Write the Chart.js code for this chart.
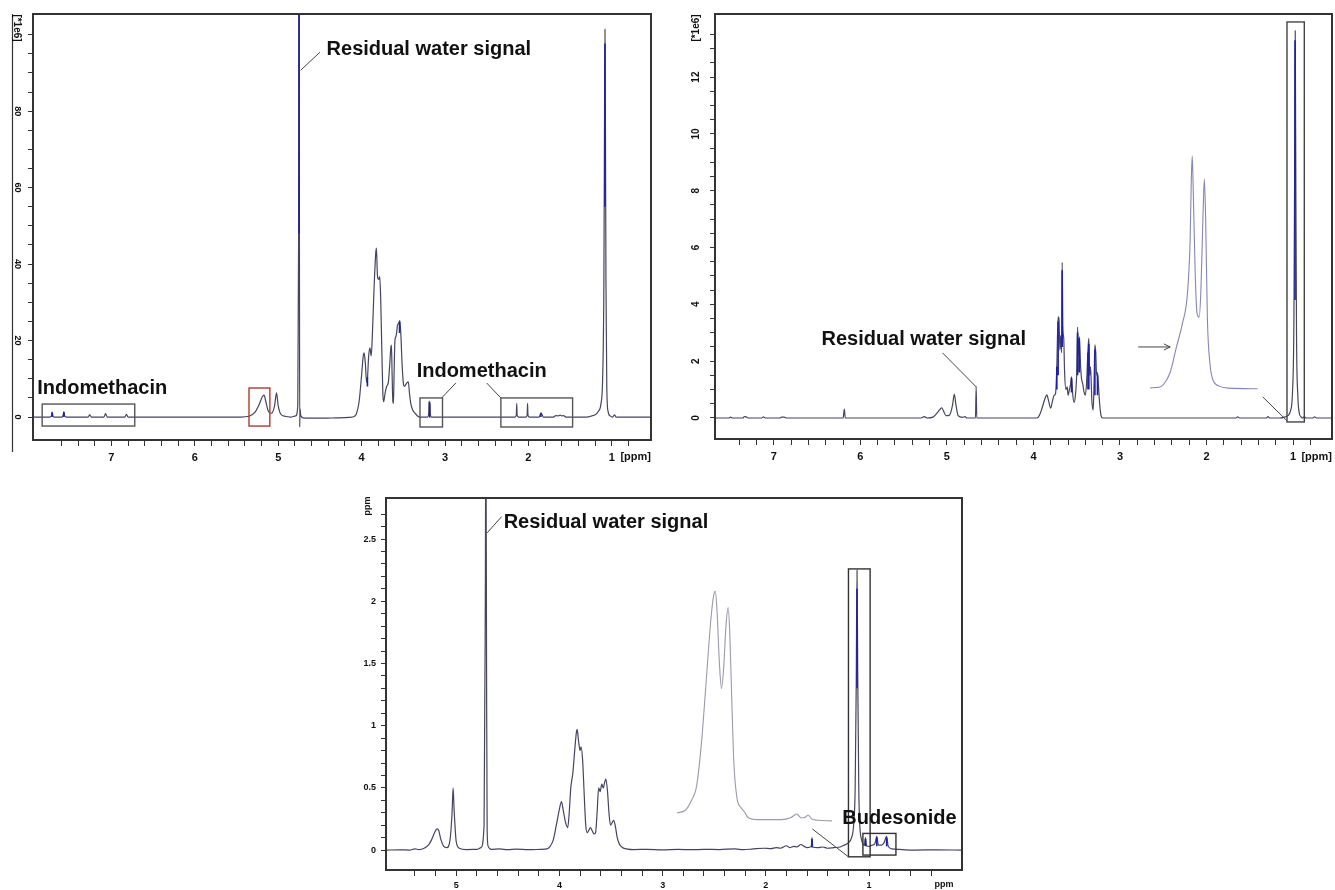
<!DOCTYPE html>
<html>
<head>
<meta charset="utf-8">
<title>1H NMR spectra</title>
<script src="https://cdn.jsdelivr.net/npm/chart.js@4.4.1/dist/chart.umd.min.js"></script>
<style>
  html, body { margin: 0; padding: 0; background: #fff; }
  body { position: relative; width: 1335px; height: 890px; overflow: hidden; }
  canvas { position: absolute; }
</style>
</head>
<body>
<canvas id="indo" width="660" height="470" style="left:0;top:0"></canvas>
<canvas id="ctrl" width="675" height="470" style="left:660px;top:0"></canvas>
<canvas id="bud" width="680" height="420" style="left:330px;top:470px"></canvas>
<script>
// spectra as [ppm, intensity]

// top left, intensity in 1e6
const indoTrace = [
  [7.94, 0], [7.74, 0], [7.72, 0.3], [7.71, 1.3], [7.70, 0.2], [7.68, 0],
  [7.59, 0], [7.58, 0.4], [7.57, 1.4], [7.56, 0.3], [7.54, 0],
  [7.28, 0], [7.26, 0.6], [7.24, 0], [7.09, 0], [7.07, 0.9], [7.05, 0],
  [6.84, 0], [6.82, 0.7], [6.80, 0],
  [5.45, 0], [5.35, 0.2], [5.28, 1.2], [5.23, 3.2], [5.19, 5.3], [5.17, 5.75], [5.15, 4.2],
  [5.12, 1.6], [5.08, 1.0], [5.045, 2.8], [5.02, 6.3], [5.00, 3.0], [4.97, 0.8], [4.92, 0.2],
  [4.85, 0], [4.79, 0.3], [4.765, 3], [4.755, 48], [4.75, 130], [4.745, 40], [4.742, -2.6],
  [4.738, 2.2], [4.73, 0.4], [4.70, -0.2], [4.55, -0.3], [4.45, -0.3], [4.30, -0.2], [4.15, -0.1],
  [4.08, 0.3], [4.06, 1], [4.03, 4], [4.00, 11], [3.98, 16], [3.97, 16.8], [3.955, 14],
  [3.94, 9], [3.93, 10], [3.915, 16], [3.90, 18.1], [3.885, 16], [3.87, 22], [3.85, 34],
  [3.83, 43], [3.822, 44.2], [3.81, 37], [3.795, 36], [3.782, 36.7], [3.77, 30], [3.755, 15],
  [3.745, 6], [3.735, 4], [3.72, 6], [3.70, 8], [3.68, 9], [3.665, 13], [3.65, 18],
  [3.642, 18.8], [3.635, 12], [3.625, 4], [3.618, 3.6], [3.61, 12], [3.60, 20], [3.59, 21],
  [3.58, 22], [3.57, 24], [3.555, 24.5], [3.542, 25.2], [3.53, 22], [3.515, 14], [3.50, 9],
  [3.485, 8], [3.47, 8.5], [3.455, 9], [3.44, 9.2], [3.425, 6], [3.41, 3.5], [3.39, 2],
  [3.36, 1], [3.33, 0.3], [3.30, 0],
  [3.21, 0], [3.195, 1], [3.19, 4.2], [3.185, 1], [3.18, 3.5], [3.175, 0.5], [3.16, 0],
  [2.16, 0], [2.145, 0.5], [2.14, 3.6], [2.135, 0.5], [2.12, 0],
  [2.03, 0], [2.015, 0.5], [2.01, 3.6], [2.005, 0.5], [1.99, 0],
  [1.87, 0], [1.85, 1.1], [1.84, 0.8], [1.82, 0],
  [1.70, 0], [1.67, 0.4], [1.64, 0.3], [1.62, 0.5], [1.60, 0.3], [1.58, 0.4], [1.55, 0],
  [1.30, 0], [1.24, 0.3], [1.20, 0.6], [1.16, 1.5], [1.13, 3.5], [1.11, 10], [1.095, 35],
  [1.087, 80], [1.082, 101.4], [1.077, 80], [1.07, 35], [1.06, 8], [1.045, 1.5], [1.02, 0.3],
  [0.99, 0], [0.965, 0.6], [0.95, 0], [0.53, 0]
]
const indoBlue = [
  [7.71, 0], [7.71, 1.2], [7.71, null], [7.57, 0], [7.57, 1.3], [7.57, null],
  [4.75, 48], [4.75, 130], [4.75, null],
  [3.93, 8], [3.93, 10.5], [3.93, null], [3.545, 22], [3.545, 25], [3.545, null],
  [3.19, 0], [3.19, 4], [3.185, 3.4], [3.18, 0], [3.18, null],
  [1.85, 0], [1.85, 1], [1.85, null],
  [1.082, 55], [1.082, 97.7]
]

// top right, intensity in 1e6
const ctrlTrace = [
  [7.68, 0], [7.52, 0], [7.50, 0.03], [7.48, 0], [7.36, 0], [7.34, 0.05], [7.32, 0.04], [7.30, 0],
  [7.14, 0], [7.12, 0.04], [7.10, 0], [6.93, 0], [6.91, 0.03], [6.88, 0.03], [6.86, 0],
  [6.20, 0], [6.185, 0.31], [6.175, 0],
  [5.30, 0], [5.26, 0.05], [5.23, 0], [5.16, 0.03], [5.12, 0.15], [5.08, 0.3], [5.06, 0.36],
  [5.04, 0.25], [5.01, 0.08], [4.97, 0.1], [4.935, 0.45], [4.915, 0.84], [4.895, 0.45],
  [4.87, 0.08], [4.82, 0.02], [4.79, 0.05], [4.77, 0], [4.67, 0], [4.662, 1.1], [4.655, 0],
  [3.96, 0], [3.93, 0.1], [3.90, 0.35], [3.87, 0.65], [3.845, 0.81], [3.825, 0.6], [3.80, 0.35],
  [3.78, 0.6], [3.76, 0.8], [3.745, 0.85], [3.73, 1.8], [3.715, 3.56], [3.705, 3.5], [3.695, 2.4],
  [3.685, 2.9], [3.675, 2.3], [3.668, 5.48], [3.66, 3.2], [3.65, 2.8], [3.64, 1.6], [3.625, 1.0],
  [3.61, 1.1], [3.60, 0.8], [3.585, 1.0], [3.57, 1.2], [3.56, 1.45], [3.545, 0.8], [3.53, 0.55],
  [3.515, 0.8], [3.50, 1.6], [3.49, 3.2], [3.48, 2.2], [3.47, 2.86], [3.455, 1.8], [3.445, 1.4],
  [3.43, 1.2], [3.415, 0.9], [3.40, 0.8], [3.385, 1.3], [3.37, 2.4], [3.36, 2.8], [3.35, 1.5],
  [3.34, 1.8], [3.325, 0.6], [3.31, 0.28], [3.30, 1.2], [3.29, 2.57], [3.28, 2.3], [3.27, 1.5],
  [3.26, 1.6], [3.25, 1.2], [3.235, 0.5], [3.22, 0.1], [3.20, 0],
  [1.66, 0], [1.64, 0.04], [1.62, 0], [1.31, 0], [1.29, 0.05], [1.27, 0],
  [1.15, 0], [1.10, 0.03], [1.06, 0.08], [1.03, 0.25], [1.005, 1.0], [0.99, 3.5], [0.98, 10],
  [0.975, 13.63], [0.97, 10], [0.96, 3], [0.945, 0.8], [0.93, 0.2], [0.91, 0.05], [0.89, 0],
  [0.87, 0.05], [0.85, 0], [0.77, 0], [0.75, 0.04], [0.73, 0], [0.55, 0]
]
const ctrlBlue = [
  [3.73, 1.0], [3.73, 1.8], [3.73, null], [3.715, 1.5], [3.715, 3.4], [3.715, null],
  [3.668, 2.5], [3.668, 5.2], [3.668, null], [3.56, 0.9], [3.56, 1.4], [3.56, null],
  [3.49, 1.5], [3.49, 3.0], [3.49, null], [3.47, 1.6], [3.47, 2.8], [3.47, null],
  [3.37, 1.0], [3.37, 2.3], [3.37, null], [3.36, 1.0], [3.36, 2.6], [3.36, null],
  [3.29, 0.8], [3.29, 2.4], [3.29, null], [3.26, 0.8], [3.26, 1.5], [3.26, null],
  [0.977, 4.15], [0.977, 13.3]
]
const ctrlInset = [
  [2.65, 1.06], [2.55, 1.08], [2.50, 1.17], [2.42, 1.6], [2.35, 2.47], [2.28, 3.3], [2.22, 4.4],
  [2.19, 6.2], [2.175, 8.5], [2.165, 9.22], [2.155, 8.2], [2.13, 5], [2.11, 3.7], [2.085, 3.55],
  [2.065, 4.5], [2.04, 7.2], [2.025, 8.41], [2.01, 7], [1.99, 3.5], [1.96, 1.9], [1.92, 1.3],
  [1.86, 1.13], [1.75, 1.05], [1.41, 1.03]
]

// bottom
const budTrace = [
  [5.68, 0], [5.55, 0.002], [5.45, 0], [5.40, 0.01], [5.36, 0.004], [5.31, 0.015], [5.27, 0.04],
  [5.24, 0.08], [5.21, 0.14], [5.185, 0.17], [5.17, 0.16], [5.15, 0.09], [5.12, 0.03], [5.09, 0.02],
  [5.06, 0.08], [5.04, 0.3], [5.03, 0.5], [5.02, 0.32], [5.00, 0.07], [4.97, 0.015], [4.90, 0.004],
  [4.80, 0.006], [4.76, 0.02], [4.73, 0.2], [4.718, 2.0], [4.712, 3.5], [4.706, 1.5], [4.70, 0.15],
  [4.69, 0.03], [4.66, 0.005], [4.58, 0.01], [4.50, 0.003], [4.42, 0.008], [4.30, 0.003],
  [4.18, 0.006], [4.12, 0.01],
  [4.09, 0.03], [4.06, 0.08], [4.03, 0.2], [4.00, 0.33], [3.98, 0.39], [3.965, 0.33], [3.94, 0.22],
  [3.92, 0.18], [3.905, 0.3], [3.89, 0.5], [3.87, 0.62], [3.85, 0.82], [3.835, 0.95], [3.828, 0.97],
  [3.815, 0.88], [3.80, 0.8], [3.79, 0.83], [3.775, 0.72], [3.76, 0.45], [3.745, 0.2], [3.73, 0.14],
  [3.715, 0.16], [3.70, 0.18], [3.685, 0.16], [3.665, 0.13], [3.65, 0.14], [3.635, 0.3], [3.62, 0.5],
  [3.605, 0.47], [3.59, 0.53], [3.575, 0.5], [3.56, 0.55], [3.55, 0.57], [3.535, 0.48], [3.52, 0.3],
  [3.505, 0.2], [3.49, 0.22], [3.475, 0.24], [3.46, 0.2], [3.44, 0.1], [3.42, 0.05], [3.39, 0.02],
  [3.34, 0.008], [3.28, 0.004],
  [3.15, 0.006], [3.00, 0.002], [2.85, 0.006], [2.72, 0.003], [2.60, 0.006], [2.45, 0.004],
  [2.30, 0.01], [2.22, 0.003], [2.12, 0.01], [2.02, 0.015], [1.95, 0.012], [1.90, 0.02],
  [1.86, 0.015], [1.80, 0.035], [1.77, 0.02], [1.73, 0.03], [1.70, 0.025], [1.66, 0.045],
  [1.63, 0.03], [1.60, 0.02], [1.56, 0.03], [1.553, 0.1], [1.546, 0.025], [1.50, 0.02],
  [1.45, 0.025], [1.40, 0.015], [1.34, 0.02], [1.28, 0.025], [1.24, 0.04], [1.20, 0.06],
  [1.17, 0.1], [1.15, 0.2], [1.135, 0.5], [1.125, 1.3], [1.117, 2.25], [1.11, 1.4], [1.10, 0.5],
  [1.09, 0.2], [1.075, 0.09], [1.06, 0.05], [1.045, 0.04], [1.035, 0.1], [1.025, 0.035],
  [1.00, 0.03], [0.97, 0.04], [0.945, 0.05], [0.925, 0.11], [0.91, 0.04], [0.88, 0.04],
  [0.855, 0.06], [0.83, 0.11], [0.815, 0.03], [0.78, 0.01], [0.70, 0.005], [0.55, 0],
  [0.35, 0.002], [0.10, 0]
]
const budBlue = [
  [1.553, 0.02], [1.553, 0.09], [1.553, null], [1.117, 1.3], [1.117, 2.1], [1.117, null],
  [1.035, 0.03], [1.035, 0.09], [1.035, null], [0.925, 0.03], [0.925, 0.1], [0.925, null],
  [0.83, 0.03], [0.83, 0.1]
]
const budInset = [
  [2.86, 0.30], [2.78, 0.32], [2.72, 0.4], [2.67, 0.52], [2.62, 0.9], [2.57, 1.45], [2.53, 1.88],
  [2.505, 2.05], [2.49, 2.08], [2.475, 1.95], [2.45, 1.5], [2.43, 1.3], [2.41, 1.45], [2.385, 1.82],
  [2.365, 1.95], [2.35, 1.75], [2.33, 1.2], [2.31, 0.7], [2.28, 0.42], [2.24, 0.34], [2.21, 0.31],
  [2.17, 0.26], [2.08, 0.245], [1.85, 0.245], [1.76, 0.26], [1.70, 0.29], [1.66, 0.26],
  [1.63, 0.26], [1.59, 0.28], [1.555, 0.25], [1.50, 0.24], [1.36, 0.235]
]

// tick labels
const indoXLabels = [7, 6, 5, 4, 3, 2, 1]
const indoYLabels = [0, 20, 40, 60, 80]
const ctrlXLabels = [7, 6, 5, 4, 3, 2, 1]
const ctrlYLabels = [0, 2, 4, 6, 8, 10, 12]
const budXLabels = [5, 4, 3, 2, 1]
const budYLabels = [0, 0.5, 1, 1.5, 2, 2.5]

const TRACE = '#45455f'
const BLUE = '#1e1ea8'
const FRAME = '#333'
const FONT = '"Liberation Sans", Arial, sans-serif'

const near = (v, list) => list.some(l => Math.abs(l - v) < 1e-6)
const onStep = (v, step) => Math.abs(v / step - Math.round(v / step)) < 1e-6

function axisX(c) {
  return {
    type: 'linear', reverse: true, min: c.xMin, max: c.xMax,
    ticks: {
      stepSize: c.xStep, autoSkip: false, maxRotation: 0, padding: c.xPad, color: '#111',
      font: { family: FONT, size: c.xFont, weight: 'bold' },
      callback: v => near(v, c.xLabels) ? String(v) : ''
    },
    grid: { drawOnChartArea: false, tickLength: 6, color: FRAME, lineWidth: 1 },
    border: { display: false },
    afterBuildTicks: s => { s.ticks = s.ticks.filter(t => onStep(t.value, c.xStep)) },
    afterFit: s => { s.height = c.xHeight; s.paddingLeft = 0; s.paddingRight = 0 }
  }
}

function axisY(c) {
  return {
    type: 'linear', min: c.yMin, max: c.yMax,
    ticks: {
      stepSize: c.yStep, autoSkip: false, display: !c.yRot, padding: 5, color: '#111',
      font: { family: FONT, size: c.yFont, weight: 'bold' },
      callback: v => near(v, c.yLabels) ? String(v) : ''
    },
    grid: { drawOnChartArea: false, tickLength: 5, color: FRAME, lineWidth: 1 },
    border: { display: false },
    afterBuildTicks: s => { s.ticks = s.ticks.filter(t => onStep(t.value, c.yStep)) },
    afterFit: s => { s.width = c.yWidth; s.paddingTop = 0; s.paddingBottom = 0 }
  }
}

function decor(c) {
  return {
    id: 'decor',
    afterDraw(chart) {
      const { ctx, chartArea: a } = chart
      const X = v => chart.scales.x.getPixelForValue(v)
      const Y = v => chart.scales.y.getPixelForValue(v)
      ctx.save()

      ctx.strokeStyle = FRAME
      ctx.lineWidth = 2
      ctx.strokeRect(a.left, a.top, a.right - a.left, a.bottom - a.top)

      ;(c.rules || []).forEach(([x1, y1, x2, y2]) => {
        ctx.lineWidth = 1.2
        ctx.beginPath(); ctx.moveTo(x1, y1); ctx.lineTo(x2, y2); ctx.stroke()
      })

      ;(c.boxes || []).forEach(([x1, x2, y1, y2, col]) => {
        ctx.strokeStyle = col
        ctx.lineWidth = 1.4
        const l = Math.min(X(x1), X(x2)), t = Math.min(Y(y1), Y(y2))
        ctx.strokeRect(l, t, Math.abs(X(x2) - X(x1)), Math.abs(Y(y2) - Y(y1)))
      })

      ctx.strokeStyle = '#444'
      ctx.lineWidth = 1
      ;(c.lines || []).forEach(([x1, y1, x2, y2]) => {
        ctx.beginPath(); ctx.moveTo(X(x1), Y(y1)); ctx.lineTo(X(x2), Y(y2)); ctx.stroke()
      })
      ;(c.arrows || []).forEach(([x1, y1, x2, y2]) => {
        const ax = X(x1), ay = Y(y1), bx = X(x2), by = Y(y2)
        const ang = Math.atan2(by - ay, bx - ax)
        ctx.beginPath(); ctx.moveTo(ax, ay); ctx.lineTo(bx, by)
        ctx.moveTo(bx - 7 * Math.cos(ang - 0.45), by - 7 * Math.sin(ang - 0.45))
        ctx.lineTo(bx, by)
        ctx.lineTo(bx - 7 * Math.cos(ang + 0.45), by - 7 * Math.sin(ang + 0.45))
        ctx.stroke()
      })

      ctx.fillStyle = '#111'
      ctx.textAlign = 'left'
      ctx.textBaseline = 'middle'
      ctx.font = `bold 20px ${FONT}`
      ;(c.texts || []).forEach(([txt, x, y]) => ctx.fillText(txt, X(x), Y(y)))

      // rotated y tick labels
      if (c.yRot) {
        ctx.font = `bold ${c.yFont}px ${FONT}`
        ctx.textAlign = 'center'
        c.yLabels.forEach(v => {
          ctx.save()
          ctx.translate(c.yLabelX, Y(v))
          ctx.rotate(c.yRot)
          ctx.fillText(String(v), 0, 0)
          ctx.restore()
        })
      }

      ;(c.units || []).forEach(([txt, x, y, rot, size, align]) => {
        ctx.save()
        ctx.font = `bold ${size}px ${FONT}`
        ctx.textAlign = align || 'center'
        ctx.translate(x, y)
        ctx.rotate(rot)
        ctx.fillText(txt, 0, 0)
        ctx.restore()
      })
      ctx.restore()
    }
  }
}

function spectrum(id, c) {
  const datasets = c.series.map(s => ({
    data: s.data, borderColor: s.color, borderWidth: s.width, pointRadius: 0,
    fill: false, spanGaps: false, tension: 0,
    cubicInterpolationMode: s.smooth ? 'monotone' : 'default'
  }))
  return new Chart(document.getElementById(id), {
    type: 'line',
    data: { datasets },
    options: {
      responsive: false,
      animation: false,
      events: [],
      layout: { padding: c.padding },
      plugins: { legend: { display: false }, tooltip: { enabled: false } },
      scales: { x: axisX(c), y: axisY(c) }
    },
    plugins: [decor(c)]
  })
}

// first dataset is drawn on top
spectrum('indo', {
  series: [
    { data: indoBlue, color: BLUE, width: 1.6 },
    { data: indoTrace, color: TRACE, width: 1.2, smooth: true }
  ],
  xMin: 0.53, xMax: 7.94, xStep: 0.2, xLabels: indoXLabels, xFont: 11, xPad: 5, xHeight: 30,
  yMin: -6.0, yMax: 105.4, yStep: 5, yLabels: indoYLabels, yFont: 9, yWidth: 33,
  yRot: Math.PI / 2, yLabelX: 17,
  padding: { top: 14, right: 9, left: 0, bottom: 0 },
  rules: [[12.5, 14, 12.5, 452]],
  units: [['[*1e6]', 17, 28, Math.PI / 2, 10], ['[ppm]', 651, 457, 0, 11, 'right']],
  boxes: [
    [7.83, 6.72, -2.35, 3.4, '#555'],
    [5.35, 5.10, -2.35, 7.6, '#b03a30'],
    [3.30, 3.03, -2.6, 5.0, '#555'],
    [2.33, 1.47, -2.6, 5.0, '#555']
  ],
  lines: [[4.73, 90.7, 4.50, 95.4], [3.04, 5.0, 2.87, 8.9], [2.33, 5.0, 2.50, 8.9]],
  texts: [['Indomethacin', 7.89, 7.6], ['Indomethacin', 3.34, 12.0], ['Residual water signal', 4.42, 96.2]]
})

spectrum('ctrl', {
  series: [
    { data: ctrlBlue, color: BLUE, width: 1.6 },
    { data: ctrlTrace, color: TRACE, width: 1.2, smooth: true },
    { data: ctrlInset, color: '#8686b6', width: 1.1, smooth: true }
  ],
  xMin: 0.55, xMax: 7.68, xStep: 0.2, xLabels: ctrlXLabels, xFont: 11, xPad: 5, xHeight: 31,
  yMin: -0.74, yMax: 14.22, yStep: 0.5, yLabels: ctrlYLabels, yFont: 10, yWidth: 55,
  yRot: -Math.PI / 2, yLabelX: 36,
  padding: { top: 14, right: 3, left: 0, bottom: 0 },
  units: [['[*1e6]', 36, 28, -Math.PI / 2, 10], ['[ppm]', 672, 457, 0, 11, 'right']],
  boxes: [[1.07, 0.87, -0.14, 13.94, '#444']],
  lines: [[5.05, 2.29, 4.66, 1.09], [1.35, 0.74, 1.07, -0.1]],
  arrows: [[2.79, 2.5, 2.42, 2.5]],
  texts: [['Residual water signal', 6.45, 2.78]]
})

spectrum('bud', {
  series: [
    { data: budBlue, color: BLUE, width: 1.6 },
    { data: budTrace, color: TRACE, width: 1.2, smooth: true },
    { data: budInset, color: '#9a9aaa', width: 1.1, smooth: true }
  ],
  xMin: 0.10, xMax: 5.68, xStep: 0.2, xLabels: budXLabels, xFont: 9, xPad: 4, xHeight: 20,
  yMin: -0.16, yMax: 2.83, yStep: 0.1, yLabels: budYLabels, yFont: 9, yWidth: 56,
  padding: { top: 28, right: 48, left: 0, bottom: 0 },
  units: [['ppm', 38, 36, -Math.PI / 2, 9], ['ppm', 614, 415, 0, 9, 'center']],
  boxes: [[1.20, 0.99, -0.054, 2.26, '#333'], [1.06, 0.74, -0.04, 0.134, '#333']],
  lines: [[1.55, 0.17, 1.20, -0.054], [4.70, 2.55, 4.56, 2.68]],
  texts: [['Residual water signal', 4.54, 2.63], ['Budesonide', 1.26, 0.257]]
})
</script>
</body>
</html>
